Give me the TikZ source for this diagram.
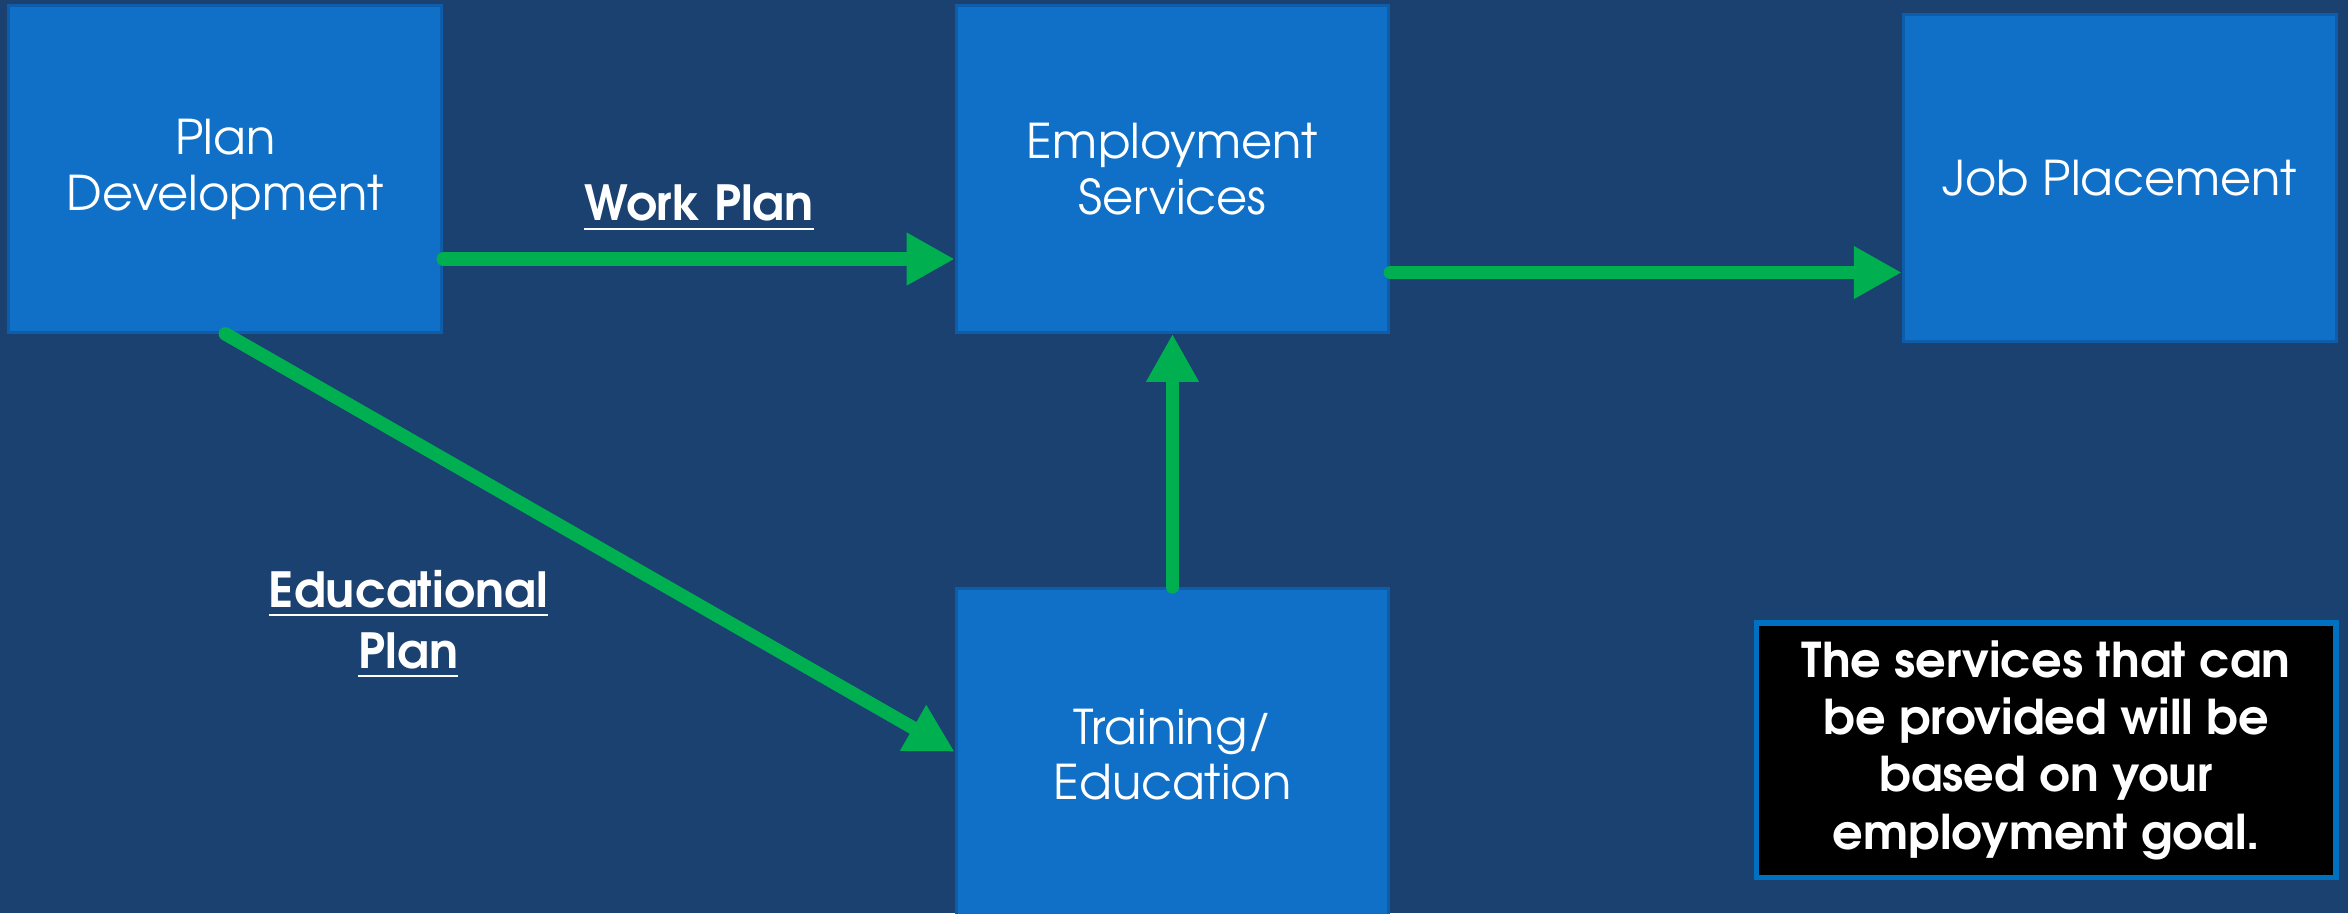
\documentclass[tikz,border=0pt]{standalone}
\usepackage{fontspec}
\setmainfont{TeX Gyre Adventor}
\usepackage{xcolor}
\usetikzlibrary{positioning,arrows.meta}

\definecolor{slidebg}{HTML}{1A4170}
\definecolor{boxblue}{HTML}{1070C7}
\definecolor{boxedge}{HTML}{0D5DAA}
\definecolor{notedge}{HTML}{0070C0}
\definecolor{flowgreen}{HTML}{00B050}

\begin{document}
\begin{tikzpicture}[
    stage/.style={draw=boxedge, line width=0.02cm, fill=boxblue, minimum width=2.89cm, minimum height=2.18cm, inner sep=0pt, text=white, align=center, font=\fontsize{9.1}{10.6}\selectfont},
    flow/.style={draw=flowgreen, line width=0.09cm, line cap=round, -{Triangle[length=0.32cm, width=0.33cm]}},
    planlabel/.style={text=white, align=center, font=\fontsize{9.2}{11.6}\selectfont\bfseries}
  ]
  \useasboundingbox[fill=slidebg] (0,0) rectangle (15.68,-6.10);

  % Stages
  \node[stage] (PD) at (1.505,-1.13) {Plan\\Development};
  \node[stage] (ES) at (7.83,-1.13) {Employment\\Services};
  \node[stage] (JP) at (14.155,-1.19) {Job Placement};

  % Training box runs off the slide
  \node[stage, minimum height=2.24cm] (TE) at (7.83,-5.05) {};
  \node[text=white, align=center, font=\fontsize{9.1}{10.6}\selectfont] (TEtext) at ([yshift=-1.12cm]TE.north) {Training/\\Education};

  % Note
  \node[draw=notedge, line width=0.035cm, fill=black, minimum width=3.87cm, minimum height=1.70cm, inner sep=0pt, text=white, align=center, font=\fontsize{9.1}{10.9}\selectfont\bfseries] (N) at (13.665,-5.01) {The services that can\\be provided will be\\based on your\\employment goal.};

  % Arrows
  \draw[flow] ([yshift=-0.6cm]PD.east) -- node[midway, above=0.02cm, planlabel] (WP) {\underline{Work Plan}} ([yshift=-0.6cm]ES.west);
  \draw[flow] ([yshift=-0.69cm]ES.east) -- ([yshift=-0.63cm]JP.west);
  \draw[flow] (TE.north) -- (ES.south);
  \draw[flow] (PD.south) -- node[midway, below left=0.02cm and 0.12cm, planlabel] (EP) {\underline{Educational}\\\underline{Plan}} ([yshift=-1.1cm]TE.north west);

\end{tikzpicture}
\end{document}
